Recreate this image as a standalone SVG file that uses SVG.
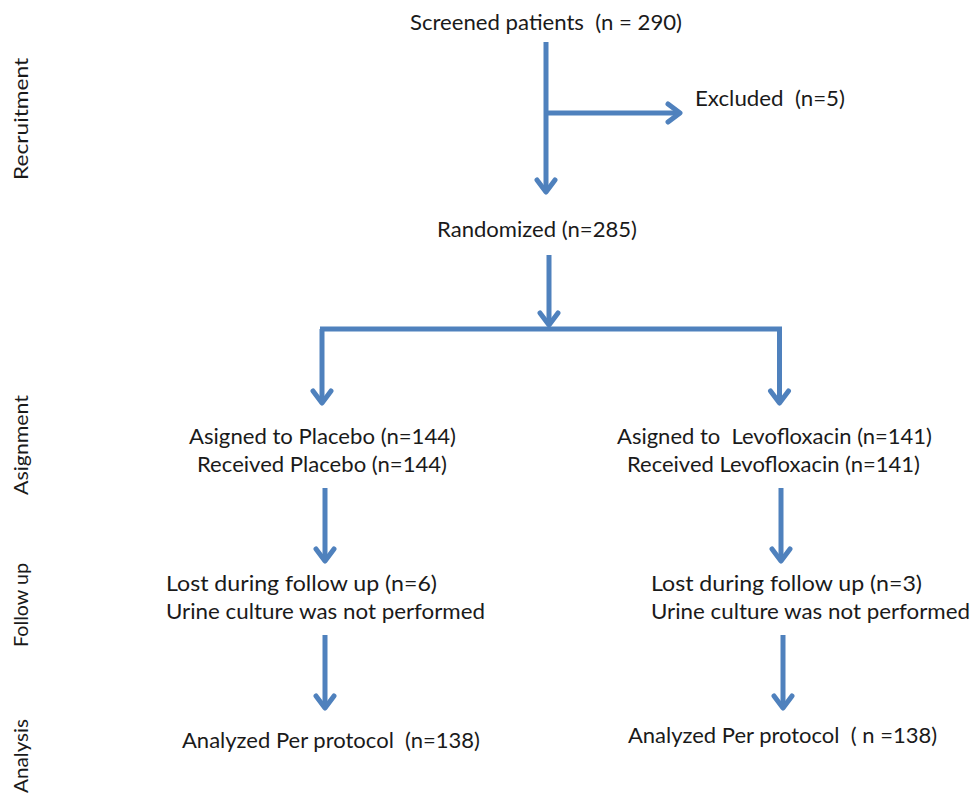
<svg xmlns="http://www.w3.org/2000/svg" width="973" height="795" viewBox="0 0 973 795">
<style>
.t{font-family:Lato,"Open Sans",sans-serif;font-size:21px;fill:#1a1a1a}
.s{font-family:Lato,"Open Sans",sans-serif;font-size:19px;fill:#1a1a1a}
.c{fill:none;stroke:#4F81BD;stroke-width:5}
.h{fill:none;stroke:#4F81BD;stroke-width:5;stroke-linecap:round;stroke-linejoin:round}
</style>
<rect width="973" height="795" fill="#fff"/>
<g id="connectors">
<path class="c" d="M546,42 V192"/>
<path class="h" d="M537,180 L546,192 L555,180"/>
<path class="c" d="M546,113 H680"/>
<path class="h" d="M668,104 L680,113 L668,122"/>
<path class="c" d="M549,255 V325"/>
<path class="h" d="M540,313 L549,325 L558,313"/>
<path class="c" d="M320,329 H782"/>
<path class="c" d="M322,329 V403"/>
<path class="h" d="M313,391 L322,403 L331,391"/>
<path class="c" d="M779.5,329 V403"/>
<path class="h" d="M770.5,391 L779.5,403 L788.5,391"/>
<path class="c" d="M325,488 V561"/>
<path class="h" d="M316,549 L325,561 L334,549"/>
<path class="c" d="M781,488 V561"/>
<path class="h" d="M772,549 L781,561 L790,549"/>
<path class="c" d="M325,635 V708"/>
<path class="h" d="M316,696 L325,708 L334,696"/>
<path class="c" d="M783,635 V708"/>
<path class="h" d="M774,696 L783,708 L792,696"/>
</g>
<g id="screened"><text class="t" x="410" y="30" textLength="272" lengthAdjust="spacingAndGlyphs" xml:space="preserve">Screened patients  (n = 290)</text></g>
<g id="excluded"><text class="t" x="695" y="106" textLength="150" lengthAdjust="spacingAndGlyphs" xml:space="preserve">Excluded  (n=5)</text></g>
<g id="randomized"><text class="t" x="437" y="237" textLength="200" lengthAdjust="spacingAndGlyphs">Randomized (n=285)</text></g>
<g id="placebo">
<text class="t" x="189" y="444" textLength="267" lengthAdjust="spacingAndGlyphs">Asigned to Placebo (n=144)</text>
<text class="t" x="197" y="472" textLength="250" lengthAdjust="spacingAndGlyphs">Received Placebo (n=144)</text>
</g>
<g id="levofloxacin">
<text class="t" x="617" y="444" textLength="315" lengthAdjust="spacingAndGlyphs" xml:space="preserve">Asigned to  Levofloxacin (n=141)</text>
<text class="t" x="627" y="472" textLength="293" lengthAdjust="spacingAndGlyphs">Received Levofloxacin (n=141)</text>
</g>
<g id="lost-placebo">
<text class="t" x="166" y="591" textLength="271" lengthAdjust="spacingAndGlyphs">Lost during follow up (n=6)</text>
<text class="t" x="166" y="619" textLength="319" lengthAdjust="spacingAndGlyphs">Urine culture was not performed</text>
</g>
<g id="lost-levo">
<text class="t" x="651" y="591" textLength="271" lengthAdjust="spacingAndGlyphs">Lost during follow up (n=3)</text>
<text class="t" x="651" y="619" textLength="319" lengthAdjust="spacingAndGlyphs">Urine culture was not performed</text>
</g>
<g id="analyzed-placebo"><text class="t" x="182" y="748" textLength="298" lengthAdjust="spacingAndGlyphs" xml:space="preserve">Analyzed Per protocol  (n=138)</text></g>
<g id="analyzed-levo"><text class="t" x="628" y="743" textLength="309" lengthAdjust="spacingAndGlyphs" xml:space="preserve">Analyzed Per protocol  ( n =138)</text></g>
<g id="stages">
<text class="s" transform="translate(28,119) rotate(-90)" text-anchor="middle" textLength="122" lengthAdjust="spacingAndGlyphs">Recruitment</text>
<text class="s" transform="translate(28,445) rotate(-90)" text-anchor="middle" textLength="100" lengthAdjust="spacingAndGlyphs">Asignment</text>
<text class="s" transform="translate(28,605) rotate(-90)" text-anchor="middle" textLength="84" lengthAdjust="spacingAndGlyphs">Follow up</text>
<text class="s" transform="translate(28,756) rotate(-90)" text-anchor="middle" textLength="74" lengthAdjust="spacingAndGlyphs">Analysis</text>
</g>
</svg>
